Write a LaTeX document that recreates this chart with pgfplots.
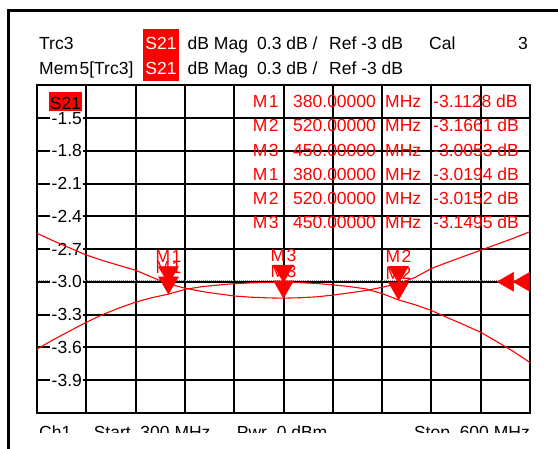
\documentclass[border=0pt]{standalone}
\usepackage{fontspec}
\setmainfont{Liberation Sans}
\usepackage{pgfplots}
\usepackage{pgfplotstable}
\pgfplotsset{compat=1.18}
\definecolor{trc}{RGB}{255,0,0}

% S21 magnitude, dB: memory trace (Mem5) and live trace (Trc3)
\pgfplotstableread{
f    mem     trc
300  -2.555  -3.617
310  -2.625  -3.530
320  -2.690  -3.450
330  -2.755  -3.371
340  -2.805  -3.300
350  -2.850  -3.240
360  -2.894  -3.186
370  -2.958  -3.145
380  -3.019  -3.113
390  -3.058  -3.070
400  -3.088  -3.045
410  -3.110  -3.030
420  -3.130  -3.017
430  -3.141  -3.010
440  -3.147  -3.006
450  -3.150  -3.005
460  -3.146  -3.008
470  -3.138  -3.015
480  -3.122  -3.028
490  -3.102  -3.043
500  -3.080  -3.065
510  -3.050  -3.108
520  -3.015  -3.166
530  -2.960  -3.210
540  -2.878  -3.263
550  -2.820  -3.330
560  -2.765  -3.395
570  -2.710  -3.463
580  -2.655  -3.550
590  -2.600  -3.640
600  -2.540  -3.740
}\sparam

\begin{document}
\begin{tikzpicture}[x=1bp,y=1bp,font=\fontsize{17.5bp}{21bp}\selectfont]
\begin{axis}[
  set layers,
  scale only axis,
  width=493bp, height=327.2bp,
  at={(0,0)}, anchor=south west,
  xmin=300, xmax=600, ymin=-4.2, ymax=-1.2,
  xtick={330,360,...,570}, xticklabels={},
  ytick={-3.9,-3.6,-3.3,-3.0,-2.7,-2.4,-2.1,-1.8,-1.5},
  yticklabels={-3.9,-3.6,-3.3,-3.0,-2.7,-2.4,-2.1,-1.8,-1.5},
  grid=major,
  major grid style={black, line width=2bp},
  axis line style={black, line width=2bp},
  major tick length=0pt, tick align=inside,
  ytick pos=left, xtick pos=bottom,
  yticklabel style={anchor=west, xshift=13bp, fill=white, inner xsep=1.5bp, inner ysep=1bp,
    font=\fontsize{17.5bp}{21bp}\selectfont},
  clip=false,
]
% reference level line
\addplot[on layer=axis grid, gray, densely dotted, line width=1bp] coordinates {(300,-2.988) (600,-2.988)};

\addplot[trc, line width=1.1bp] table[x=f, y=mem] {\sparam};
\addplot[trc, line width=1.1bp] table[x=f, y=trc] {\sparam};

% marker labels
\addplot[draw=none, mark=none, nodes near coords, point meta=explicit symbolic,
  every node near coord/.style={anchor=center, yshift=27bp, inner sep=0pt, text=trc,
    font=\fontsize{17.5bp}{21bp}\selectfont}]
  coordinates {(380,-3.1128) [M\kern1.5bp 1] (520,-3.1661) [M\kern1.5bp 2] (450,-3.0053) [M\kern1.5bp 3]
               (380,-3.0194) [M\kern1.5bp 1] (520,-3.0152) [M\kern1.5bp 2] (450,-3.1495) [M\kern1.5bp 3]};

% markers
\addplot[only marks, mark=triangle*, mark size=11.5bp, trc,
  mark options={yshift=11.5bp, rotate=180, fill=trc, draw=trc}]
  coordinates {(380,-3.1128) (520,-3.1661) (450,-3.0053)};
\addplot[only marks, mark=triangle*, mark size=11.5bp, trc,
  mark options={yshift=11.5bp, rotate=180, fill=trc, draw=trc}]
  coordinates {(380,-3.0194) (520,-3.0152) (450,-3.1495)};

% reference level arrows
\addplot[only marks, mark=triangle*, mark size=11bp, trc,
  mark options={xshift=11bp, rotate=90, fill=trc, draw=trc}]
  coordinates {(580,-3.0) (589.7,-3.0)};
\end{axis}
\useasboundingbox (-37,-36.3) rectangle (521,412.7);

% frame
\draw[line width=3bp, miter limit=10] (-28.5,-36.3) -- (-28.5,401.7) -- (521,401.7);

% header
\fill[trc] (106,331.7) rectangle (142,383.7);
\node[anchor=base west, inner sep=0pt] at (2,363.4) {Trc3};
\node[anchor=base west, inner sep=0pt] at (2,338.4) {Mem\kern1.5bp 5[Trc3]};
\node[anchor=base, inner sep=0pt, text=white] at (124,363.4) {S21};
\node[anchor=base, inner sep=0pt, text=white] at (124,338.4) {S21};
\node[anchor=base west, inner sep=0pt] at (150.5,363.4) {dB Mag};
\node[anchor=base west, inner sep=0pt] at (150.5,338.4) {dB Mag};
\node[anchor=base west, inner sep=0pt] at (220,363.4) {0.3 dB /};
\node[anchor=base west, inner sep=0pt] at (220,338.4) {0.3 dB /};
\node[anchor=base west, inner sep=0pt] at (292,363.4) {Ref -3 dB};
\node[anchor=base west, inner sep=0pt] at (292,338.4) {Ref -3 dB};
\node[anchor=base west, inner sep=0pt] at (392,363.4) {Cal};
\node[anchor=base east, inner sep=0pt] at (491,363.4) {3};

% trace label inside the diagram
\fill[trc] (12,301.7) rectangle (45,320.7);
\node[anchor=base, inner sep=0pt] at (28.5,302.9) {S21};

% marker table
\begin{scope}[every node/.style={anchor=base west, inner sep=0pt, text=trc}]
\node at (215.7,305.0) {M\kern1.5bp 1}; \node at (256,305.0) {380.00000}; \node at (348,305.0) {MHz}; \node at (396,305.0) {-3.1128 dB};
\node at (215.7,280.8) {M\kern1.5bp 2}; \node at (256,280.8) {520.00000}; \node at (348,280.8) {MHz}; \node at (396,280.8) {-3.1661 dB};
\node at (215.7,256.5) {M\kern1.5bp 3}; \node at (256,256.5) {450.00000}; \node at (348,256.5) {MHz}; \node at (396,256.5) {-3.0053 dB};
\node at (215.7,232.2) {M\kern1.5bp 1}; \node at (256,232.2) {380.00000}; \node at (348,232.2) {MHz}; \node at (396,232.2) {-3.0194 dB};
\node at (215.7,208.0) {M\kern1.5bp 2}; \node at (256,208.0) {520.00000}; \node at (348,208.0) {MHz}; \node at (396,208.0) {-3.0152 dB};
\node at (215.7,183.7) {M\kern1.5bp 3}; \node at (256,183.7) {450.00000}; \node at (348,183.7) {MHz}; \node at (396,183.7) {-3.1495 dB};
\end{scope}

% footer, cut off as in the screenshot
\begin{scope}
\clip (-37,-20.3) rectangle (521,0);
\node[anchor=base west, inner sep=0pt] at (2,-26) {Ch1};
\node[anchor=base west, inner sep=0pt] at (56.6,-26) {Start\ \ 300 MHz};
\node[anchor=base west, inner sep=0pt] at (199.7,-26) {Pwr\ \ 0 dBm};
\node[anchor=base east, inner sep=0pt] at (493,-26) {Stop\ \ 600 MHz};
\end{scope}
\end{tikzpicture}
\end{document}
